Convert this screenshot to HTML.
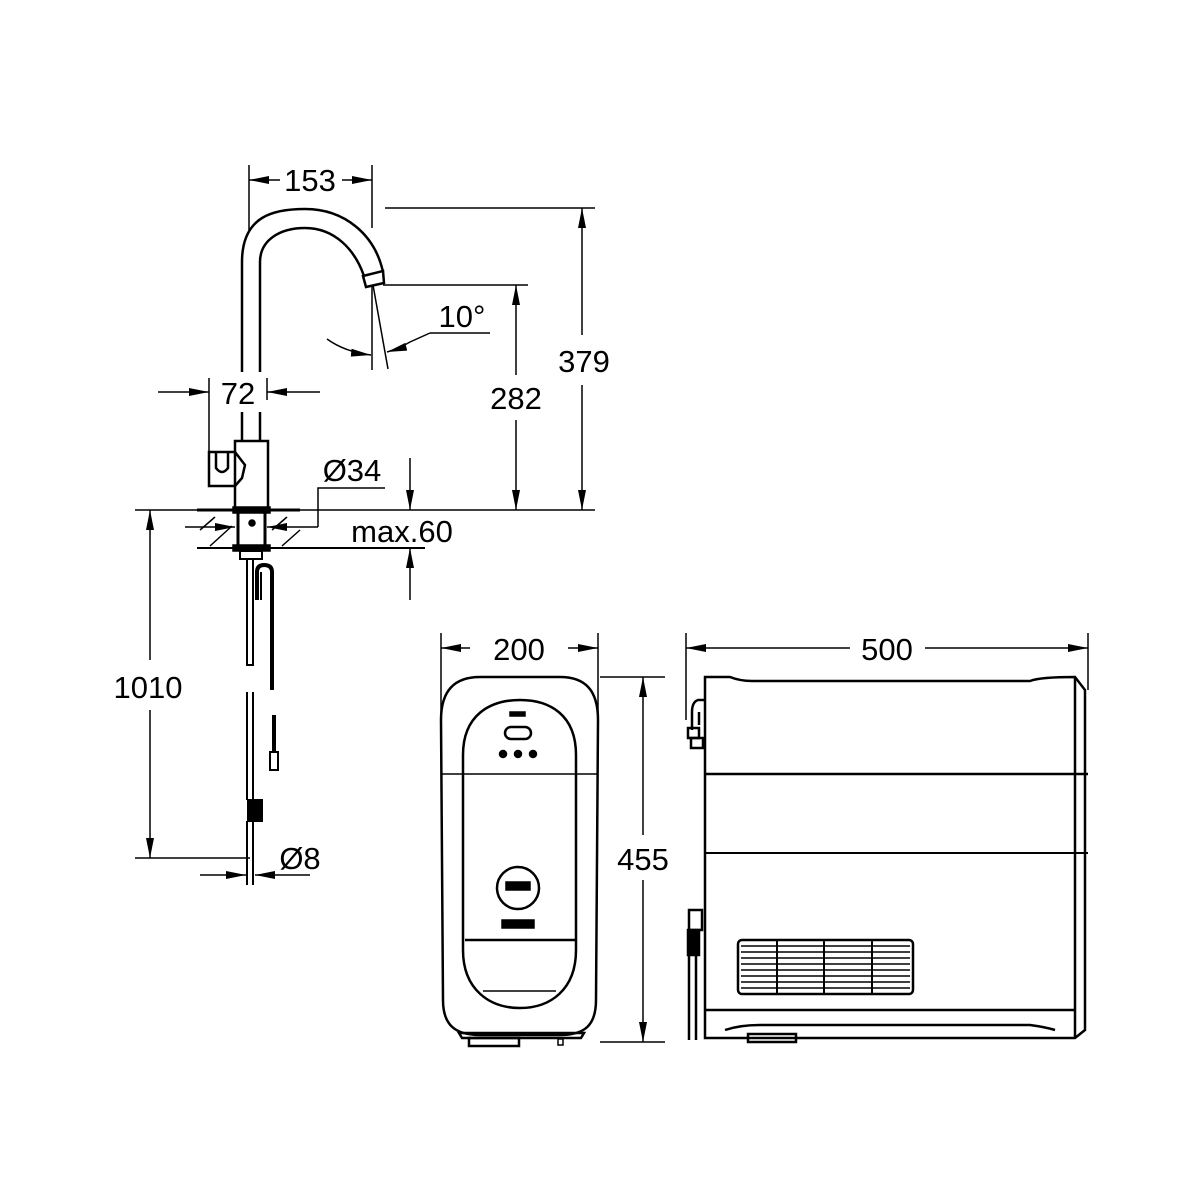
<!DOCTYPE html>
<html><head><style>html,body{margin:0;padding:0;background:#fff}svg{display:block}text{font-family:"Liberation Sans",sans-serif;font-size:31px;fill:#000}</style></head>
<body>
<svg width="1200" height="1200" viewBox="0 0 1200 1200" xmlns="http://www.w3.org/2000/svg">
<defs>
<marker id="a" viewBox="0 0 20 8" refX="20" refY="4" markerWidth="20" markerHeight="8" markerUnits="userSpaceOnUse" orient="auto"><path d="M0,0L20,4L0,8z" fill="#000"/></marker>
</defs>
<g fill="none" stroke="#000" stroke-width="1.5">
<!-- 153 -->
<line x1="249" y1="165" x2="249" y2="232"/><line x1="372" y1="165" x2="372" y2="228"/>
<line x1="280" y1="180" x2="249" y2="180" marker-end="url(#a)"/><line x1="342" y1="180" x2="372" y2="180" marker-end="url(#a)"/>
<!-- 379 -->
<line x1="385" y1="208" x2="595" y2="208"/>
<line x1="582" y1="335" x2="582" y2="208" marker-end="url(#a)"/><line x1="582" y1="385" x2="582" y2="510" marker-end="url(#a)"/>
<!-- 282 -->
<line x1="383" y1="285" x2="528" y2="285"/>
<line x1="516" y1="375" x2="516" y2="285" marker-end="url(#a)"/><line x1="516" y1="420" x2="516" y2="510" marker-end="url(#a)"/>
<!-- 10 deg -->
<line x1="372" y1="285" x2="372" y2="370"/><line x1="373" y1="285" x2="388" y2="369"/>
<path d="M327,339 Q345,352 371,355" marker-end="url(#a)"/>
<path d="M430,333 L410,342 Q398,349 387,352" marker-end="url(#a)"/>
<line x1="430" y1="333" x2="490" y2="333"/>
<!-- 72 -->
<line x1="209" y1="378" x2="209" y2="486"/><line x1="267" y1="378" x2="267" y2="400"/>
<line x1="158" y1="392" x2="209" y2="392" marker-end="url(#a)"/><line x1="320" y1="392" x2="267" y2="392" marker-end="url(#a)"/>
<!-- faucet arc -->
<g stroke-width="2.5">
<path d="M242,372 V262 C242,215 275,209 305,209 C345,209 375,235 383,272"/>
<path d="M260,372 V262 C260,240 280,228 305,228 C335,228 355,250 364,276"/>
<path d="M363,276 L383,271 L384,283 L366,287 Z"/>
<line x1="242" y1="412" x2="242" y2="441"/><line x1="260" y1="412" x2="260" y2="441"/>
<rect x="235" y="441" width="33" height="69"/>
<path d="M235,452 H209 V486 H235"/>
<path d="M235,452 L245,465 L242,478 L235,486"/>
<path d="M216,452 V468 Q222,476 228,468 V452"/>
</g>
<!-- counter -->
<line x1="135" y1="510" x2="595" y2="510"/>
<line x1="197" y1="510" x2="300" y2="510" stroke-width="3"/>
<line x1="197" y1="548" x2="425" y2="548" stroke-width="2"/>
<path d="M200,530 L215,517 M210,546 L232,526 M272,530 L287,517 M282,546 L300,530"/>
<line x1="185" y1="527" x2="235" y2="527" marker-end="url(#a)"/>
<line x1="318" y1="527" x2="267" y2="527" marker-end="url(#a)"/>
<path d="M318,527 V488 H385"/>
<rect x="238" y="510" width="27" height="38" stroke-width="3"/>
<rect x="233" y="507" width="37" height="6" fill="#000"/>
<rect x="233" y="545" width="37" height="6" fill="#000"/>
<rect x="240" y="551" width="22" height="8" stroke-width="2"/>
<circle cx="252" cy="523" r="3" fill="#000"/>
<!-- max60 -->
<line x1="410" y1="458" x2="410" y2="510" marker-end="url(#a)"/>
<line x1="410" y1="600" x2="410" y2="548" marker-end="url(#a)"/>
<!-- hoses -->
<g stroke-width="2">
<path d="M247,559 V665 H253 V559"/>
<path d="M247,692 V800 M253,692 V800"/>
<rect x="248" y="800" width="14" height="21" fill="#000"/>
<path d="M247,821 V885 M253,821 V885"/>
<path d="M257,600 V572 Q257,565 264,565 Q272,565 272,572 V690" stroke-width="4"/>
<path d="M261,600 V572" />
<line x1="274" y1="715" x2="274" y2="752" stroke-width="4"/>
<rect x="270" y="752" width="8" height="18"/>
</g>
<!-- 1010 -->
<line x1="135" y1="858" x2="250" y2="858"/>
<line x1="150" y1="660" x2="150" y2="510" marker-end="url(#a)"/>
<line x1="150" y1="710" x2="150" y2="858" marker-end="url(#a)"/>
<!-- 8 -->
<line x1="200" y1="875" x2="246" y2="875" marker-end="url(#a)"/>
<line x1="310" y1="875" x2="255" y2="875" marker-end="url(#a)"/>
<!-- front unit -->
<line x1="441" y1="633" x2="441" y2="720"/><line x1="598" y1="633" x2="598" y2="720"/>
<line x1="470" y1="648" x2="441" y2="648" marker-end="url(#a)"/><line x1="568" y1="648" x2="598" y2="648" marker-end="url(#a)"/>
<g stroke-width="2.5">
<path d="M441,720 C441,690 455,677 480,677 H560 C585,677 598,690 598,720 L596,1000 C596,1025 585,1035 560,1035 H480 C455,1035 443,1025 443,1000 Z"/>
<path d="M463,755 C463,715 490,700 520,700 C550,700 576,715 576,755 V950 C576,990 550,1008 520,1008 C490,1008 463,990 463,950 Z"/>
<line x1="465" y1="940" x2="575" y2="940"/>
<circle cx="518" cy="888" r="21"/>
<rect x="505" y="727" width="26" height="12" rx="6"/>
<path d="M459,1033 H584 L581,1038 H462 Z"/>
<rect x="469" y="1038" width="50" height="8"/>
</g>
<line x1="441" y1="774" x2="598" y2="774"/>
<line x1="483" y1="991" x2="556" y2="991"/>
<rect x="510" y="712" width="15" height="4" fill="#000"/>
<circle cx="503" cy="754" r="3.5" fill="#000"/><circle cx="518" cy="754" r="3.5" fill="#000"/><circle cx="533" cy="754" r="3.5" fill="#000"/>
<rect x="506" y="882" width="24" height="8" fill="#000"/>
<rect x="502" y="920" width="32" height="8" fill="#000"/>
<rect x="558" y="1039" width="5" height="6"/>
<!-- 455 -->
<line x1="600" y1="677" x2="665" y2="677"/><line x1="600" y1="1042" x2="665" y2="1042"/>
<line x1="643" y1="835" x2="643" y2="677" marker-end="url(#a)"/><line x1="643" y1="880" x2="643" y2="1042" marker-end="url(#a)"/>
<!-- side unit -->
<line x1="686" y1="633" x2="686" y2="720"/><line x1="1088" y1="633" x2="1088" y2="690"/>
<line x1="850" y1="648" x2="686" y2="648" marker-end="url(#a)"/><line x1="925" y1="648" x2="1088" y2="648" marker-end="url(#a)"/>
<g stroke-width="2.5">
<path d="M705,677 H730 Q740,681 752,681 H1030 Q1040,677 1075,677 L1085,690 V1030 L1075,1038 H705 Z"/>
<line x1="1075" y1="677" x2="1075" y2="1038"/>
<line x1="705" y1="1010" x2="1075" y2="1010"/>
<path d="M725,1030 Q740,1025 760,1025 H1030 Q1045,1027 1055,1030"/>
<rect x="748" y="1034" width="48" height="8"/>
<rect x="738" y="940" width="175" height="54" rx="4"/>
</g>
<line x1="705" y1="774" x2="1088" y2="774" stroke-width="2.5"/>
<line x1="705" y1="853" x2="1088" y2="853" stroke-width="2"/>
<g stroke-width="1.5">
<line x1="741" y1="946" x2="910" y2="946"/><line x1="741" y1="952" x2="910" y2="952"/><line x1="741" y1="958" x2="910" y2="958"/><line x1="741" y1="964" x2="910" y2="964"/><line x1="741" y1="970" x2="910" y2="970"/><line x1="741" y1="976" x2="910" y2="976"/><line x1="741" y1="982" x2="910" y2="982"/><line x1="741" y1="988" x2="910" y2="988"/>
</g>
<line x1="777" y1="940" x2="777" y2="994" stroke-width="2"/><line x1="824" y1="940" x2="824" y2="994" stroke-width="2"/><line x1="872" y1="940" x2="872" y2="994" stroke-width="2"/>
<g stroke-width="2.5">
<path d="M705,700 H698 Q692,702 692,712 V730 M699,712 V725"/>
<rect x="688" y="728" width="11" height="10"/>
<rect x="691" y="738" width="12" height="10"/>
<rect x="689" y="910" width="13" height="20"/>
<rect x="688" y="930" width="11" height="25" fill="#000"/>
<line x1="689" y1="955" x2="689" y2="1040"/><line x1="696" y1="955" x2="696" y2="1040"/>
</g>
</g>
<text x="310" y="191" text-anchor="middle">153</text>
<text x="584" y="372" text-anchor="middle">379</text>
<text x="516" y="409" text-anchor="middle">282</text>
<text x="462" y="327" text-anchor="middle">10°</text>
<text x="238" y="404" text-anchor="middle">72</text>
<text x="352" y="481" text-anchor="middle">Ø34</text>
<text x="402" y="542" text-anchor="middle">max.60</text>
<text x="148" y="698" text-anchor="middle">1010</text>
<text x="300" y="869" text-anchor="middle">Ø8</text>
<text x="519" y="660" text-anchor="middle">200</text>
<text x="643" y="870" text-anchor="middle">455</text>
<text x="887" y="660" text-anchor="middle">500</text>
</svg>
</body></html>
